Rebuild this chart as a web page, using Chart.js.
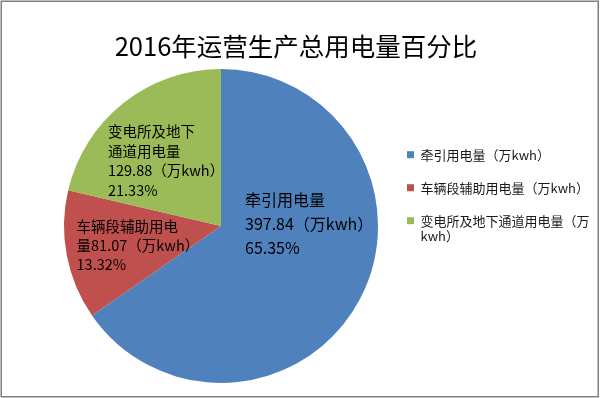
<!DOCTYPE html>
<html>
<head>
<meta charset="utf-8">
<script src="https://cdn.jsdelivr.net/npm/chart.js@4.4.1/dist/chart.umd.min.js"></script>
<style>
  html, body { margin: 0; padding: 0; background: #fff; }
</style>
</head>
<body>
<canvas id="myChart" width="600" height="398"></canvas>
<script>
const titulo = "2016年运营生产总用电量百分比";
const categorias = ["牵引用电量（万kwh）", "车辆段辅助用电量（万kwh）", "变电所及地下通道用电量（万kwh）"];
const valores = [397.84, 81.07, 129.88];
const percentuais = ["65.35%", "13.32%", "21.33%"];
const cores = ["#4F81BD", "#C0504D", "#9BBB59"];

// onde quebrar as linhas dos rótulos e da legenda
const quebrasRotulo = [[5], [7], [6, 11]];
const quebrasLegenda = [0, 0, 13];

const fonte = "'Noto Sans CJK SC', 'Noto Sans', sans-serif";

// posição dos rótulos (em frações do raio, a partir do centro)
const estiloRotulo = [
  { dx: 0.153, dy: -0.166, size: 16, lh: 24 },
  { dx: -0.92, dy: 0.006, size: 14.5, lh: 19 },
  { dx: -0.72, dy: -0.60, size: 14.5, lh: 19.5 },
];

function linhasRotulo(i) {
  const nome = categorias[i].replace("（万kwh）", "");
  const texto = nome + valores[i].toFixed(2) + "（万kwh）";
  const linhas = [];
  let ini = 0;
  quebrasRotulo[i].forEach((q) => {
    linhas.push(texto.slice(ini, q));
    ini = q;
  });
  linhas.push(texto.slice(ini));
  linhas.push(percentuais[i]);
  return linhas;
}

const moldura = {
  id: "moldura",
  beforeDraw(chart) {
    const c = chart.ctx;
    c.save();
    c.fillStyle = "#fff";
    c.fillRect(0, 0, chart.width, chart.height);
    c.restore();
  },
  afterDraw(chart) {
    const c = chart.ctx;
    c.save();
    c.strokeStyle = "#808080";
    c.lineWidth = 1.5;
    c.strokeRect(1.25, 1.25, 597, 395.5);
    c.restore();
  },
};

// a legenda fica estreita no layout, mas o texto pode passar da borda
const legendaLarga = {
  id: "legendaLarga",
  afterLayout(chart) {
    const lg = chart.legend;
    lg.right = chart.width - 2;
    lg.width = lg.right - lg.left;
  },
};

const rotulos = {
  id: "rotulos",
  afterDatasetsDraw(chart) {
    const c = chart.ctx;
    const arcs = chart.getDatasetMeta(0).data;
    arcs.forEach((arc, i) => {
      const s = estiloRotulo[i];
      const x = arc.x + s.dx * arc.outerRadius;
      let y = arc.y + s.dy * arc.outerRadius;
      c.save();
      c.fillStyle = "#000";
      c.font = s.size + "px " + fonte;
      c.textAlign = "left";
      c.textBaseline = "middle";
      linhasRotulo(i).forEach((l) => {
        c.fillText(l, x, y);
        y += s.lh;
      });
      c.restore();
    });
  },
};

const ctx = document.getElementById("myChart");

const chart = new Chart(ctx, {
  type: "pie",
  data: {
    labels: categorias,
    datasets: [
      {
        data: valores,
        backgroundColor: cores,
        borderWidth: 0,
      },
    ],
  },
  options: {
    responsive: false,
    animation: false,
    devicePixelRatio: 1,
    layout: {
      padding: { left: 55, right: 63, top: 0, bottom: 15 },
    },
    plugins: {
      tooltip: { enabled: false },
      title: {
        display: true,
        text: titulo,
        color: "#000",
        font: { family: fonte, size: 25.5, weight: "normal", lineHeight: 1.2 },
        padding: { top: 30.7, bottom: 7.7 },
      },
      legend: {
        position: "right",
        align: "start",
        maxWidth: 150,
        title: {
          display: true,
          text: " ",
          font: { size: 10, lineHeight: 1.2 },
          padding: { top: 116.2, bottom: 0 },
        },
        labels: {
          boxWidth: 7,
          boxHeight: 7,
          padding: 20,
          color: "#1a1a1a",
          font: { family: fonte, size: 13, lineHeight: 1.2 },
          generateLabels() {
            return categorias.map((cat, i) => {
              const q = quebrasLegenda[i];
              return {
                text: q ? [cat.slice(0, q), cat.slice(q)] : cat,
                fillStyle: cores[i],
                strokeStyle: cores[i],
                lineWidth: 0,
                hidden: false,
                index: i,
                fontColor: "#1a1a1a",
              };
            });
          },
        },
      },
    },
  },
  plugins: [moldura, legendaLarga, rotulos],
});
</script>
</body>
</html>
